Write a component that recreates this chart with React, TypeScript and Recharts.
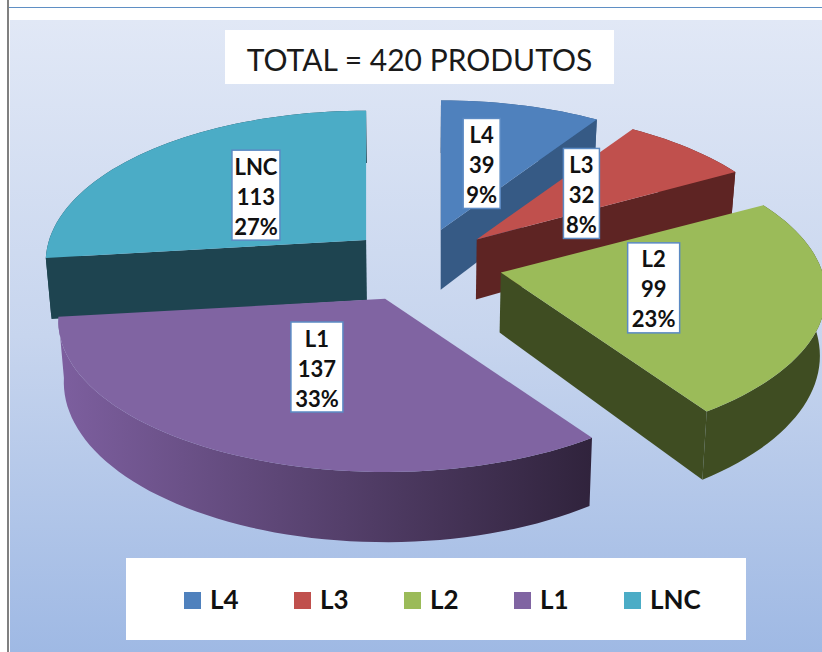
import { Legend, Pie, PieChart } from "recharts";

const categories = ["L4", "L3", "L2", "L1", "LNC"];
const counts = [39, 32, 99, 137, 113];
const shares = ["9%", "8%", "23%", "33%", "27%"];

const topColors: Record<string, string> = {
  L4: "#4f81bd",
  L3: "#c0504d",
  L2: "#9bbb59",
  L1: "#8064a2",
  LNC: "#4bacc6",
};
const wallColors: Record<string, [string, string]> = {
  L4: ["#365a85", "#365a85"],
  L3: ["#5e2423", "#5e2423"],
  L2: ["#3f4d22", "#3f4d22"],
  L1: ["#7d5f9f", "#30233c"],
  LNC: ["#1e4450", "#1e4450"],
};
// small hand corrections, the original slices were not exploded quite evenly
const sliceShift: Record<string, number> = { L4: -2, L3: -1, L2: 2, L1: -2, LNC: 3 };
const rimScale: Record<string, number> = { L4: 1, L3: 1, L2: 1.015, L1: 1.02, LNC: 1 };
const labelNudge: Record<string, [number, number]> = {
  L4: [-2, 0],
  L3: [-6, 2],
  L2: [-4, -2],
  L1: [2, -4],
  LNC: [3, 2],
};
const labelWidth: Record<string, number> = { L4: 37, L3: 36, L2: 52, L1: 52, LNC: 48 };

const FONT = "Lato, 'Open Sans', sans-serif";
const TILT = 0.467; // vertical squash of the pie plane
const PERSPECTIVE = 0.145;
const EXPLODE = 0.25;
const DEPTH = 60;
const BOTTOM_SHRINK = 0.985;

// Pie paints in data order, so the back slice goes first and the start angle is shifted to keep L4 at 12 o'clock
const total = counts.reduce((a, b) => a + b, 0);
const pieData = [4, 0, 1, 2, 3].map((i) => ({
  name: categories[i],
  value: counts[i],
  share: shares[i],
}));
const startAngle = 90 + (360 * counts[4]) / total;

type Pt = { x: number; y: number };
const rad = (d: number) => (d * Math.PI) / 180;

function project(o: Pt, u: number, v: number, r: number, sx = 1): Pt {
  const d = 1 + PERSPECTIVE * v;
  return { x: o.x + (r * sx * u) / d, y: o.y - (r * TILT * v) / d };
}
function apexOf(cx: number, cy: number, mid: number, r: number, name: string): Pt {
  const p = project({ x: cx, y: cy }, EXPLODE * Math.cos(rad(mid)), EXPLODE * Math.sin(rad(mid)), r);
  return { x: p.x + sliceShift[name], y: p.y };
}
const toPath = (pts: Pt[]) =>
  "M" + pts.map((p) => `${p.x.toFixed(1)},${p.y.toFixed(1)}`).join("L") + "Z";

function Slice3D(props: any) {
  const { cx, cy, startAngle: a0, endAngle: a1, outerRadius: r, name } = props;
  const mid = (a0 + a1) / 2;
  const apex = apexOf(cx, cy, mid, r, name);
  const rimAt = (a: number) => project(apex, Math.cos(rad(a)), Math.sin(rad(a)), r, rimScale[name]);
  const sink = (p: Pt, a: number | null) => ({
    x: cx + (p.x - cx) * BOTTOM_SHRINK,
    y: p.y + DEPTH / (1 + (a === null ? 0 : PERSPECTIVE * Math.sin(rad(a)))),
  });

  const angles: number[] = [];
  const steps = Math.max(8, Math.ceil(Math.abs(a0 - a1) / 2));
  for (let i = 0; i <= steps; i++) angles.push(a0 + ((a1 - a0) * i) / steps);
  const rim = angles.map(rimAt);
  const rimLow = angles.map((a, i) => sink(rim[i], a));

  const inner = rimAt(mid);
  const cutFace = (a: number) => {
    const p = rimAt(a);
    let nx = -(p.y - apex.y);
    let ny = p.x - apex.x;
    if (nx * (inner.x - apex.x) + ny * (inner.y - apex.y) < 0) {
      nx = -nx;
      ny = -ny;
    }
    if (ny >= 0) return null;
    return toPath([apex, p, sink(p, a), sink(apex, null)]);
  };
  const cuts = [cutFace(a0), cutFace(a1)].filter(Boolean) as string[];
  const [wallA, wallB] = wallColors[name];
  const gid = `wall-${name}`;

  return (
    <g>
      <defs>
        <linearGradient id={gid} x1="0" y1="0" x2="1" y2="0">
          <stop offset="0%" stopColor={wallA} />
          <stop offset="100%" stopColor={wallB} />
        </linearGradient>
      </defs>
      <path d={toPath([...rim, ...rimLow.slice().reverse()])} fill={`url(#${gid})`} />
      {cuts.map((d, i) => (
        <path key={i} d={d} fill={wallA === wallB ? wallA : wallB} />
      ))}
      <path d={toPath([apex, ...rim])} fill={topColors[name]} />
    </g>
  );
}

function SliceLabel(props: any) {
  const { cx, cy, midAngle, outerRadius: r, name, value, payload } = props;
  const apex = apexOf(cx, cy, midAngle, r, name);
  const c = project(apex, 0.5 * Math.cos(rad(midAngle)), 0.5 * Math.sin(rad(midAngle)), r);
  const [nx, ny] = labelNudge[name];
  const w = labelWidth[name];
  const h = 90;
  const x = c.x + nx;
  const y = c.y + ny;
  const lines = [name, String(value), payload?.share ?? props.share];
  return (
    <g>
      <rect x={x - w / 2} y={y - h / 2} width={w} height={h} fill="#fff" stroke="#5b8ac4" strokeWidth={1.5} />
      {lines.map((t: string, i: number) => (
        <text
          key={i}
          x={x}
          y={y - 29 + i * 30}
          textAnchor="middle"
          dominantBaseline="central"
          fontFamily={FONT}
          fontWeight={700}
          fontSize={22}
          fill="#111"
        >
          {t}
        </text>
      ))}
    </g>
  );
}

function LegendBox() {
  return (
    <div
      style={{
        width: 620,
        height: 82,
        background: "#fff",
        position: "relative",
        fontFamily: FONT,
        fontWeight: 700,
        fontSize: 26,
        color: "#111",
      }}
    >
      {categories.map((c, i) => (
        <div key={c} style={{ position: "absolute", left: 58 + i * 110, top: 34, display: "flex", alignItems: "center", height: 17 }}>
          <span style={{ width: 17, height: 17, background: topColors[c], display: "inline-block", marginRight: 9 }} />
          <span style={{ position: "relative", top: -2 }}>{c}</span>
        </div>
      ))}
    </div>
  );
}

export default function App() {
  return (
    <div style={{ position: "absolute", left: 0, top: 0, width: 822, height: 652, background: "#fff", overflow: "hidden" }}>
      <div style={{ position: "absolute", left: 7, top: 0, width: 2, height: 652, background: "#808080" }} />
      <div style={{ position: "absolute", left: 9, top: 7, width: 813, height: 1, background: "#5f8fc4" }} />
      <div
        style={{
          position: "absolute",
          left: 10,
          top: 20,
          width: 812,
          height: 632,
          background: "linear-gradient(180deg, #e1e8f6 0%, #c7d5ee 50%, #9fb9e4 100%)",
        }}
      />
      <div
        style={{
          position: "absolute",
          left: 225,
          top: 30,
          width: 389,
          height: 54,
          background: "#fff",
          fontFamily: FONT,
          fontSize: 30,
          lineHeight: "58px",
          textAlign: "center",
          color: "#1a1a1a",
        }}
      >
        TOTAL = 420 PRODUTOS
      </div>
      <PieChart width={822} height={652} style={{ position: "absolute", left: 0, top: 0 }}>
        <Pie
          data={pieData}
          dataKey="value"
          nameKey="name"
          cx={416}
          cy={259}
          innerRadius={0}
          outerRadius={317}
          startAngle={startAngle}
          endAngle={startAngle - 360}
          stroke="none"
          shape={Slice3D}
          label={SliceLabel}
          labelLine={false}
          isAnimationActive={false}
        />
        <Legend
          content={<LegendBox />}
          wrapperStyle={{ position: "absolute", left: 126, top: 558, bottom: "auto", width: 620, height: 82 }}
        />
      </PieChart>
    </div>
  );
}
